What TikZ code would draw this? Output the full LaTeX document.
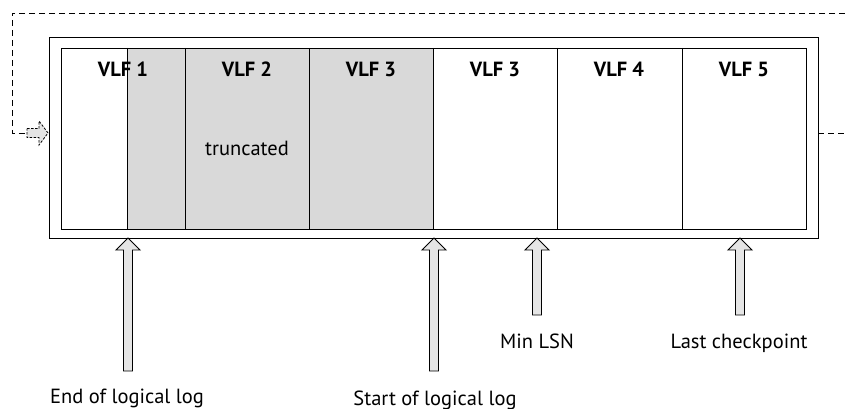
\documentclass[tikz,border=0pt]{standalone}
\usepackage{fontspec}
\setmainfont{PT Sans}
\newcommand\myblockarrow[3]{%
  \draw[blockarrow] (#1,#2) -- (#1+12,#2+12) -- (#1+4.5,#2+12) -- (#1+4.5,#3)
    -- (#1-4.5,#3) -- (#1-4.5,#2+12) -- (#1-12,#2+12) -- cycle;}
\begin{document}
\begin{tikzpicture}[x=1pt,y=-1pt,
  frame/.style={draw=black,line width=1pt},
  cellline/.style={draw=black,line width=0.9pt},
  shade/.style={fill=black!15},
  vlf/.style={font=\fontsize{20.5}{24}\selectfont\bfseries,anchor=base,inner sep=0pt},
  lbl/.style={font=\fontsize{20.5}{24}\selectfont,anchor=base,inner sep=0pt},
  blockarrow/.style={draw=black,line width=0.9pt,fill=black!10,line join=miter},
  loop/.style={draw=black,line width=0.8pt,dash pattern=on 6pt off 4pt},
]
\useasboundingbox (0,0) rectangle (845,409);
% outer frame
\draw[frame,fill=white] (49,38) rectangle (818,238);
% shaded (truncated) area
\fill[shade] (127,48) rectangle (433,229);
% inner frame
\draw[cellline] (61,48) rectangle (806,229);
% cell dividers
\foreach \xx in {127,185,309,433,557,682}
  \draw[cellline] (\xx,48) -- (\xx,229);
% cell labels
\node[vlf] (v1) at (123,77) {VLF 1};
\node[vlf] (v2) at (247,77) {VLF 2};
\node[vlf] (v3) at (371,77) {VLF 3};
\node[vlf] (v3b) at (495,77) {VLF 3};
\node[vlf] (v4) at (619,77) {VLF 4};
\node[vlf] (v5) at (744,77) {VLF 5};
\node[lbl] (tr) at (247,155) {truncated};
% wrap-around dashed loop
\coordinate (rs) at (818,133);
\coordinate (re) at (845,133);
\coordinate (tr1) at (845,13);
\coordinate (tl) at (12,13);
\coordinate (bl) at (12,133);
\draw[loop] (rs) -- (re);
\draw[loop] (tr1) -- (tl) -- (bl) -- (27,133);
\draw[loop,fill=black!10,dash pattern=on 2.5pt off 1.5pt] (27,128.5) -- (39,128.5) -- (39,121) -- (48,133) -- (39,145) -- (39,137.5) -- (27,137.5) -- cycle;
% block arrows
\myblockarrow{128}{238}{371}
\myblockarrow{434}{238}{371}
\myblockarrow{537}{238}{315}
\myblockarrow{740}{238}{315}
% pointer labels
\node[lbl] (eol) at (127,403) {End of logical log};
\node[lbl] (sol) at (435,405) {Start of logical log};
\node[lbl] (mlsn) at (537,348) {Min LSN};
\node[lbl] (lcp) at (739,348) {Last checkpoint};
\end{tikzpicture}
\end{document}
